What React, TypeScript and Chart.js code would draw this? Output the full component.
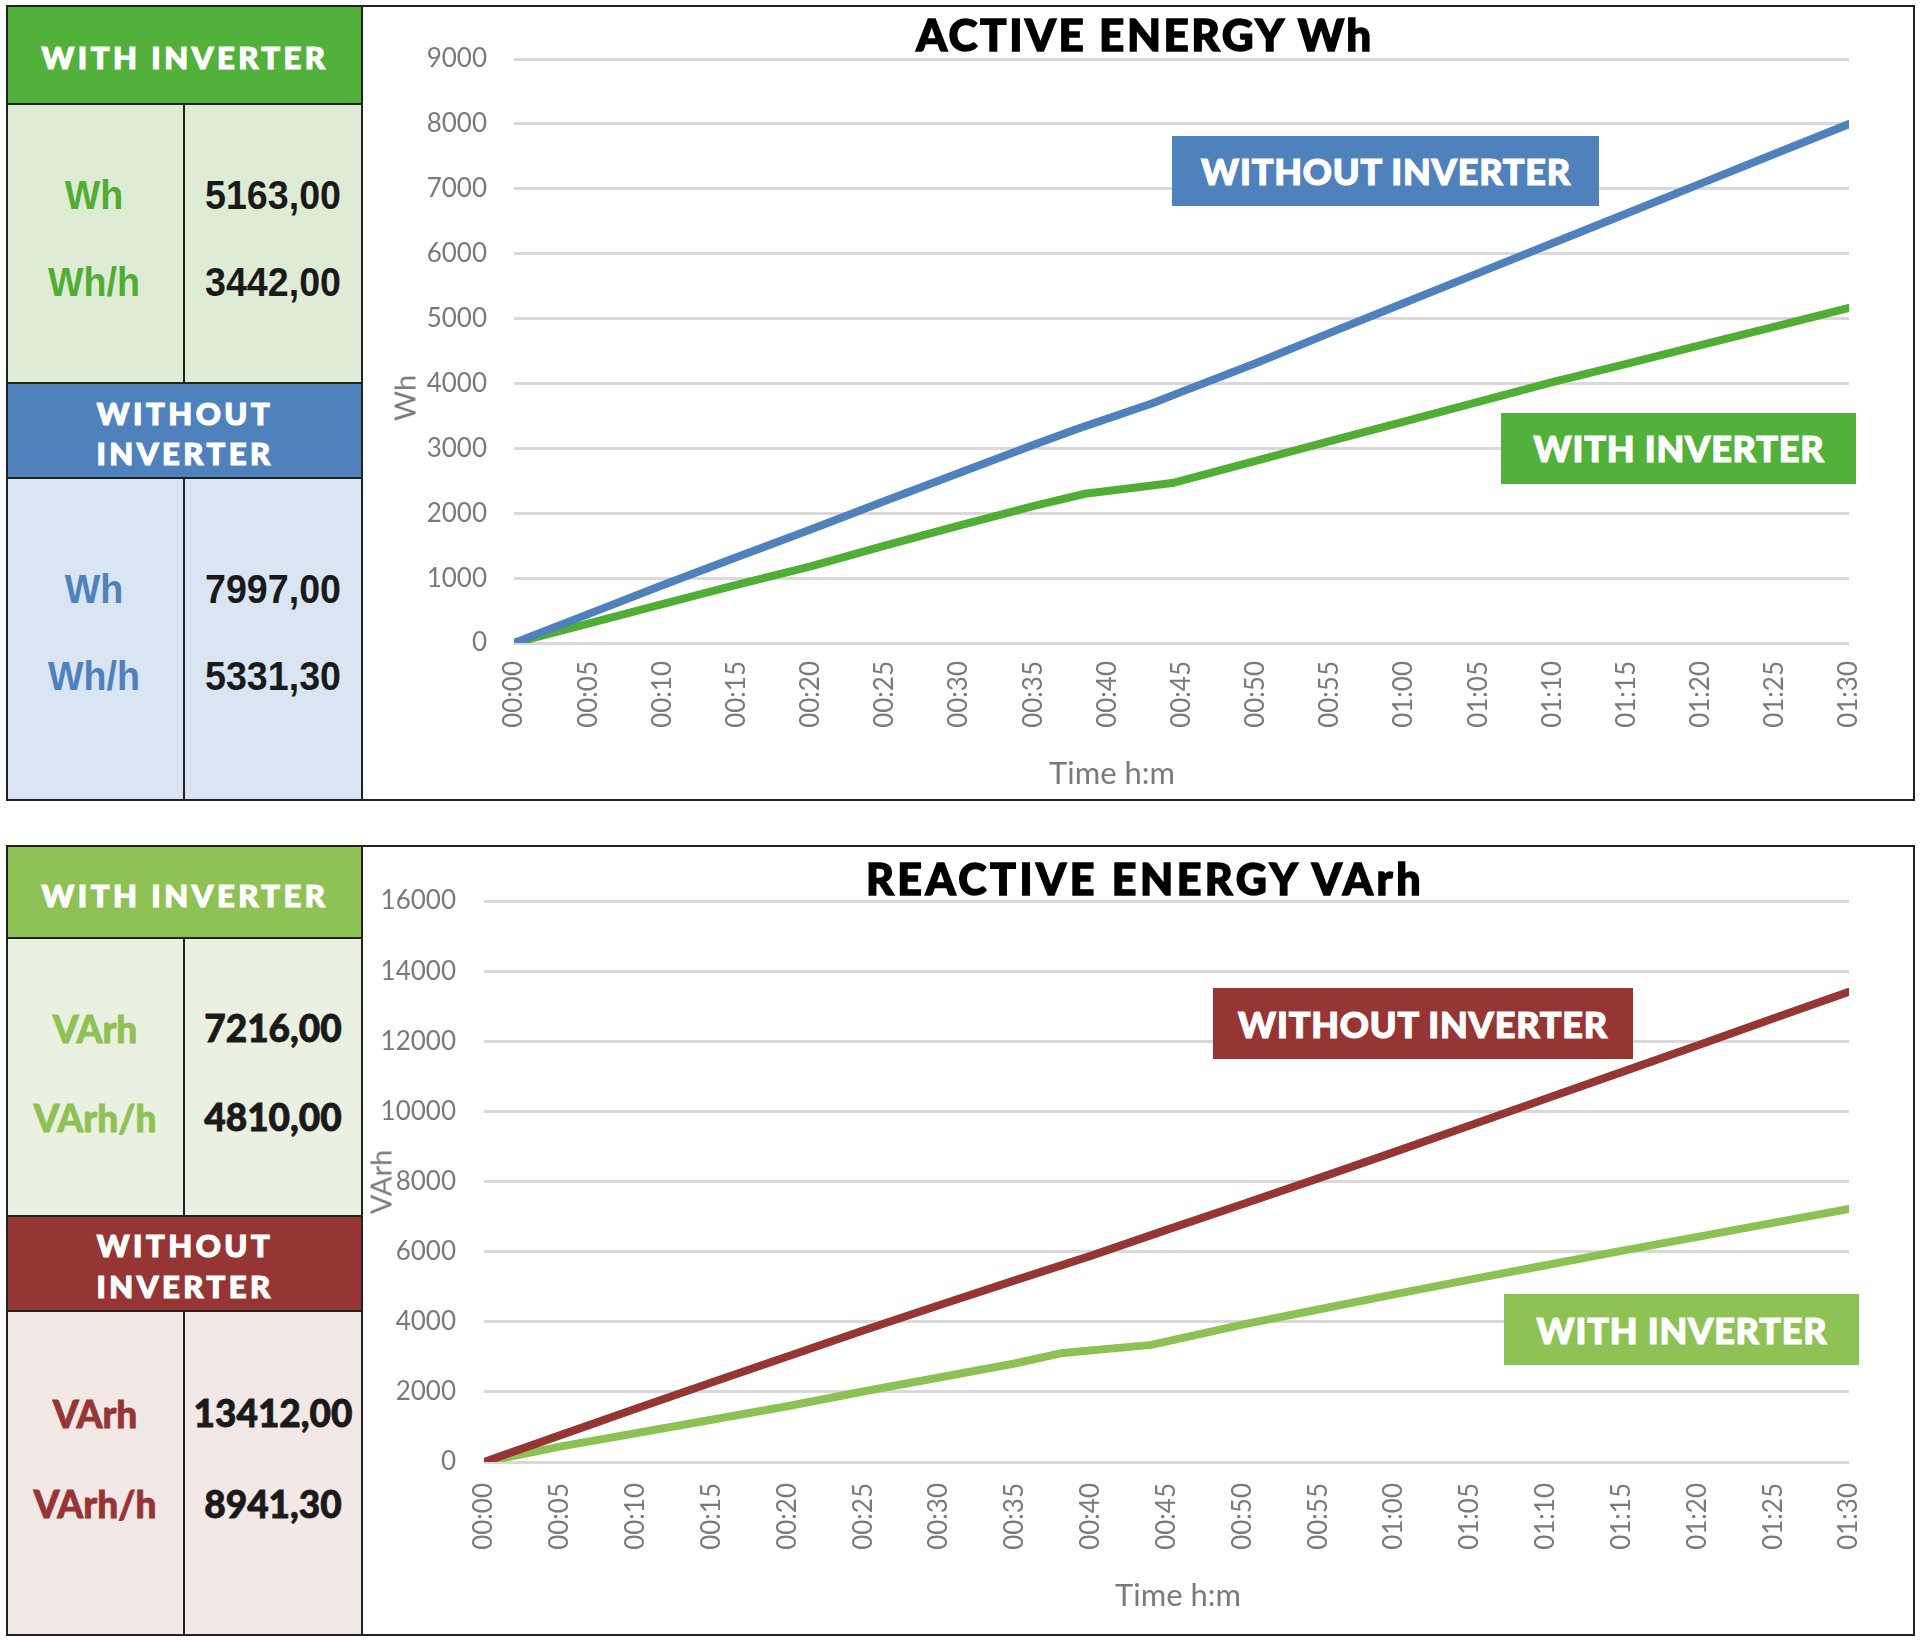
import React, { useEffect, useRef } from "react";
import { Chart, registerables } from "chart.js";

Chart.register(...registerables);

// ---------- DATA ----------
// time in minutes since start
const activeWithTime = [0, 5, 10, 15, 20, 25, 30, 35, 38.5, 44.5, 50, 55, 60, 65, 70, 75, 80, 85, 90];
const activeWith = [0, 300, 600, 895, 1180, 1500, 1810, 2110, 2300, 2470, 2805, 3110, 3410, 3715, 4020, 4300, 4590, 4875, 5163];

const activeWithoutTime = [0, 5, 10, 15, 20, 25, 30, 35, 38, 43, 45, 50, 55, 60, 65, 70, 75, 80, 85, 90];
const activeWithout = [0, 445, 890, 1320, 1750, 2190, 2620, 3050, 3300, 3690, 3870, 4311, 4780, 5240, 5700, 6160, 6620, 7080, 7540, 7997];

const reactiveWithTime = [0, 5, 10, 15, 20, 25, 30, 35, 38, 44, 50, 55, 60, 65, 70, 75, 80, 85, 90];
const reactiveWith = [0, 440, 820, 1205, 1590, 2010, 2410, 2810, 3100, 3340, 3920, 4350, 4780, 5200, 5610, 6020, 6420, 6820, 7216];

const reactiveWithoutTime = [0, 5, 10, 15, 20, 25, 30, 35, 40, 45, 50, 55, 60, 65, 70, 75, 80, 85, 90];
const reactiveWithout = [0, 760, 1520, 2270, 3010, 3750, 4470, 5180, 5880, 6620, 7350, 8090, 8837, 9600, 10360, 11120, 11880, 12650, 13412];

const xMinMinutes = 0;
const xMaxMinutes = 90;
const xStepMinutes = 5;

const activeYMax = 9000;
const activeYStep = 1000;
const reactiveYMax = 16000;
const reactiveYStep = 2000;

// table values
const activeWithRows = [["Wh", "5163,00"], ["Wh/h", "3442,00"]];
const activeWithoutRows = [["Wh", "7997,00"], ["Wh/h", "5331,30"]];
const reactiveWithRows = [["VArh", "7216,00"], ["VArh/h", "4810,00"]];
const reactiveWithoutRows = [["VArh", "13412,00"], ["VArh/h", "8941,30"]];

// ---------- STYLE ----------
const C_GREEN = "#52b13a";
const C_GREEN_LIGHT_BG = "#dfecd5";
const C_BLUE = "#4f81bd";
const C_BLUE_LIGHT_BG = "#dae5f3";
const C_LGREEN = "#8fc254";
const C_LGREEN_BG = "#ebf1e0";
const C_RED = "#963634";
const C_PINK_BG = "#f2e8e6";
const C_LINE_BORDER = "#222";
const C_TICK = "#7a7a7a";
const C_GRID = "#d9d9d9";

const pad2 = (n: number) => (n < 10 ? "0" + n : String(n));
const fmtTime = (m: number) => `${pad2(Math.floor(m / 60))}:${pad2(Math.round(m % 60))}`;

type Series = { times: number[]; values: number[]; color: string };

type ChartCfg = {
  width: number;
  height: number;
  series: Series[];
  yMax: number;
  yStep: number;
  yAxisWidth: number;
  xAxisHeight: number;
  padTop: number;
  padRight: number;
  yTickPadding: number;
  xTickPadding: number;
  yTickFont: { family: string; size: number };
};

function EnergyChart({ cfg, style }: { cfg: ChartCfg; style: React.CSSProperties }) {
  const ref = useRef<HTMLCanvasElement | null>(null);
  useEffect(() => {
    if (!ref.current) return;
    const chart = new Chart(ref.current, {
      type: "line",
      data: {
        datasets: cfg.series.map((s) => ({
          data: s.times.map((t, i) => ({ x: t, y: s.values[i] })),
          borderColor: s.color,
          backgroundColor: s.color,
          borderWidth: 8,
          pointRadius: 0,
          tension: 0,
          fill: false,
          borderCapStyle: "round" as const,
          borderJoinStyle: "round" as const,
        })),
      },
      options: {
        responsive: false,
        maintainAspectRatio: false,
        animation: false,
        events: [],
        layout: { padding: { top: cfg.padTop, right: cfg.padRight, left: 0, bottom: 0 } },
        plugins: {
          legend: { display: false },
          title: { display: false },
          tooltip: { enabled: false },
        },
        scales: {
          x: {
            type: "linear",
            min: xMinMinutes,
            max: xMaxMinutes,
            grid: { display: false, drawTicks: false },
            border: { display: false },
            ticks: {
              stepSize: xStepMinutes,
              autoSkip: false,
              minRotation: 90,
              maxRotation: 90,
              padding: cfg.xTickPadding,
              color: C_TICK,
              font: { family: "Lato", size: 26 },
              callback: (v: any) => fmtTime(Number(v)),
            },
            afterFit: (s: any) => {
              s.height = cfg.xAxisHeight;
            },
          },
          y: {
            type: "linear",
            min: 0,
            max: cfg.yMax,
            grid: { color: C_GRID, lineWidth: 3, drawTicks: false },
            border: { display: false },
            ticks: {
              stepSize: cfg.yStep,
              padding: cfg.yTickPadding,
              color: C_TICK,
              font: cfg.yTickFont,
              callback: (v: any) => String(v),
            },
            afterFit: (s: any) => {
              s.width = cfg.yAxisWidth;
            },
          },
        },
      },
    });
    return () => chart.destroy();
  }, [cfg]);
  return <canvas ref={ref} width={cfg.width} height={cfg.height} style={{ position: "absolute", width: cfg.width, height: cfg.height, ...style }} />;
}

// ---------- helpers ----------
const Rect = ({ x, y, w, h, bg, z = 1 }: { x: number; y: number; w: number; h: number; bg: string; z?: number }) => (
  <div style={{ position: "absolute", left: x, top: y, width: w, height: h, background: bg, zIndex: z }} />
);

const Txt = ({
  cx,
  cy,
  children,
  style,
  rotate = 0,
}: {
  cx: number;
  cy: number;
  children: React.ReactNode;
  style?: React.CSSProperties;
  rotate?: number;
}) => (
  <div
    style={{
      position: "absolute",
      left: cx,
      top: cy,
      transform: `translate(-50%, -50%) rotate(${rotate}deg)`,
      whiteSpace: "nowrap",
      lineHeight: 1,
      zIndex: 5,
      ...style,
    }}
  >
    {children}
  </div>
);

const HEAVY = (stroke: number, color: string): React.CSSProperties => ({
  WebkitTextStroke: `${stroke}px ${color}`,
});

const HEAD_FONT: React.CSSProperties = {
  fontFamily: "Lato",
  fontWeight: 900,
  fontSize: 31,
  letterSpacing: 3.5,
  color: "#fff",
  ...HEAVY(1.2, "#fff"),
};
const ANNOT_FONT: React.CSSProperties = {
  fontFamily: "Lato",
  fontWeight: 900,
  fontSize: 36,
  letterSpacing: 0.8,
  color: "#fff",
  ...HEAVY(1.2, "#fff"),
};
const TITLE_FONT: React.CSSProperties = { fontFamily: "Lato", fontWeight: 900, color: "#000", ...HEAVY(1.4, "#000") };
const AXIS_TITLE_FONT: React.CSSProperties = { fontFamily: "Lato", fontSize: 30, color: C_TICK };
const TOP_CELL_FONT: React.CSSProperties = { fontFamily: "'Liberation Sans', Arial, sans-serif", fontWeight: 700, fontSize: 40 };
const BOT_CELL_FONT: React.CSSProperties = { fontFamily: "Lato", fontWeight: 900, fontSize: 37 };

const Lines = ({ segs }: { segs: [number, number, number, number][] }) => (
  <>
    {segs.map(([x, y, w, h], i) => (
      <div key={i} style={{ position: "absolute", left: x, top: y, width: w, height: h, background: C_LINE_BORDER, zIndex: 4 }} />
    ))}
  </>
);

const activeCfg: ChartCfg = {
  width: 1549,
  height: 792,
  series: [
    { times: activeWithoutTime, values: activeWithout, color: C_BLUE },
    { times: activeWithTime, values: activeWith, color: "#4fae33" },
  ],
  yMax: activeYMax,
  yStep: activeYStep,
  yAxisWidth: 150,
  xAxisHeight: 156,
  padTop: 52,
  padRight: 64,
  yTickPadding: 27,
  xTickPadding: 18,
  yTickFont: { family: "Lato", size: 26 },
};

const reactiveCfg: ChartCfg = {
  width: 1549,
  height: 787,
  series: [
    { times: reactiveWithoutTime, values: reactiveWithout, color: C_RED },
    { times: reactiveWithTime, values: reactiveWith, color: "#8dc153" },
  ],
  yMax: reactiveYMax,
  yStep: reactiveYStep,
  yAxisWidth: 120,
  xAxisHeight: 172,
  padTop: 54,
  padRight: 64,
  yTickPadding: 28,
  xTickPadding: 21,
  yTickFont: { family: "Lato", size: 26 },
};

const Cell = ({ cx, cy, color, text, narrow }: { cx: number; cy: number; color: string; text: string; narrow: boolean }) =>
  narrow ? (
    <Txt cx={cx} cy={cy} style={{ ...TOP_CELL_FONT, color }}>
      <span style={{ display: "inline-block", transform: "scaleX(0.94)" }}>{text}</span>
    </Txt>
  ) : (
    <Txt cx={cx} cy={cy} style={{ ...BOT_CELL_FONT, color, ...HEAVY(0.8, color) }}>
      {text}
    </Txt>
  );

export default function App() {
  return (
    <div style={{ position: "absolute", left: 0, top: 0, width: 1920, height: 1641, background: "#fff", overflow: "hidden" }}>
      {/* ===== TOP PANEL ===== */}
      <Rect x={6} y={5} w={357} h={100} bg={C_GREEN} />
      <Rect x={6} y={104} w={357} h={280} bg={C_GREEN_LIGHT_BG} />
      <Rect x={6} y={383} w={357} h={96} bg={C_BLUE} />
      <Rect x={6} y={478} w={357} h={323} bg={C_BLUE_LIGHT_BG} />
      <EnergyChart cfg={activeCfg} style={{ left: 364, top: 7, zIndex: 2 }} />
      <Lines
        segs={[
          [6, 5, 1909, 2],
          [6, 799, 1909, 2],
          [6, 5, 2, 796],
          [1913, 5, 2, 796],
          [361, 5, 2, 796],
          [6, 103, 357, 2],
          [6, 382, 357, 2],
          [6, 477, 357, 2],
          [183, 103, 2, 281],
          [183, 477, 2, 324],
        ]}
      />
      <Txt cx={185} cy={57} style={HEAD_FONT}>WITH INVERTER</Txt>
      <Txt cx={185} cy={413} style={HEAD_FONT}>WITHOUT</Txt>
      <Txt cx={185} cy={453} style={HEAD_FONT}>INVERTER</Txt>
      {activeWithRows.map(([k, v], i) => (
        <React.Fragment key={"aw" + i}>
          <Cell cx={94} cy={195 + i * 87} color="#4fae33" text={k} narrow />
          <Cell cx={273} cy={195 + i * 87} color="#1a1a1a" text={v} narrow />
        </React.Fragment>
      ))}
      {activeWithoutRows.map(([k, v], i) => (
        <React.Fragment key={"awo" + i}>
          <Cell cx={94} cy={589 + i * 87} color={C_BLUE} text={k} narrow />
          <Cell cx={273} cy={589 + i * 87} color="#1a1a1a" text={v} narrow />
        </React.Fragment>
      ))}
      <Txt cx={1145} cy={34} style={{ ...TITLE_FONT, fontSize: 44, letterSpacing: 2.5 }}>ACTIVE ENERGY Wh</Txt>
      <Txt cx={404} cy={398} rotate={-90} style={{ ...AXIS_TITLE_FONT, fontSize: 29 }}>Wh</Txt>
      <Txt cx={1112} cy={772} style={{ ...AXIS_TITLE_FONT, fontSize: 31 }}>Time h:m</Txt>
      <Rect x={1172} y={136} w={427} h={70} bg={C_BLUE} z={3} />
      <Txt cx={1386} cy={171} style={ANNOT_FONT}>WITHOUT INVERTER</Txt>
      <Rect x={1501} y={413} w={355} h={71} bg={C_GREEN} z={3} />
      <Txt cx={1679} cy={448} style={ANNOT_FONT}>WITH INVERTER</Txt>

      {/* ===== BOTTOM PANEL ===== */}
      <Rect x={6} y={845} w={357} h={94} bg={C_LGREEN} />
      <Rect x={6} y={938} w={357} h={279} bg={C_LGREEN_BG} />
      <Rect x={6} y={1216} w={357} h={96} bg={C_RED} />
      <Rect x={6} y={1311} w={357} h={325} bg={C_PINK_BG} />
      <EnergyChart cfg={reactiveCfg} style={{ left: 364, top: 847, zIndex: 2 }} />
      <Lines
        segs={[
          [6, 845, 1909, 2],
          [6, 1634, 1909, 2],
          [6, 845, 2, 791],
          [1913, 845, 2, 791],
          [361, 845, 2, 791],
          [6, 937, 357, 2],
          [6, 1215, 357, 2],
          [6, 1310, 357, 2],
          [183, 937, 2, 279],
          [183, 1310, 2, 326],
        ]}
      />
      <Txt cx={185} cy={895} style={HEAD_FONT}>WITH INVERTER</Txt>
      <Txt cx={185} cy={1245} style={HEAD_FONT}>WITHOUT</Txt>
      <Txt cx={185} cy={1286} style={HEAD_FONT}>INVERTER</Txt>
      {reactiveWithRows.map(([k, v], i) => (
        <React.Fragment key={"rw" + i}>
          <Cell cx={95} cy={1028 + i * 89} color={C_LGREEN} text={k} narrow={false} />
          <Cell cx={273} cy={1027 + i * 89} color="#1a1a1a" text={v} narrow={false} />
        </React.Fragment>
      ))}
      {reactiveWithoutRows.map(([k, v], i) => (
        <React.Fragment key={"rwo" + i}>
          <Cell cx={95} cy={1413 + i * 90} color={C_RED} text={k} narrow={false} />
          <Cell cx={273} cy={1412 + i * 91} color="#1a1a1a" text={v} narrow={false} />
        </React.Fragment>
      ))}
      <Txt cx={1145} cy={878} style={{ ...TITLE_FONT, fontSize: 43, letterSpacing: 3.5 }}>REACTIVE ENERGY VArh</Txt>
      <Txt cx={380} cy={1182} rotate={-90} style={{ ...AXIS_TITLE_FONT, fontSize: 29 }}>VArh</Txt>
      <Txt cx={1178} cy={1594} style={{ ...AXIS_TITLE_FONT, fontSize: 31 }}>Time h:m</Txt>
      <Rect x={1213} y={988} w={420} h={71} bg={C_RED} z={3} />
      <Txt cx={1423} cy={1024} style={ANNOT_FONT}>WITHOUT INVERTER</Txt>
      <Rect x={1504} y={1294} w={355} h={71} bg={C_LGREEN} z={3} />
      <Txt cx={1682} cy={1330} style={ANNOT_FONT}>WITH INVERTER</Txt>
    </div>
  );
}
